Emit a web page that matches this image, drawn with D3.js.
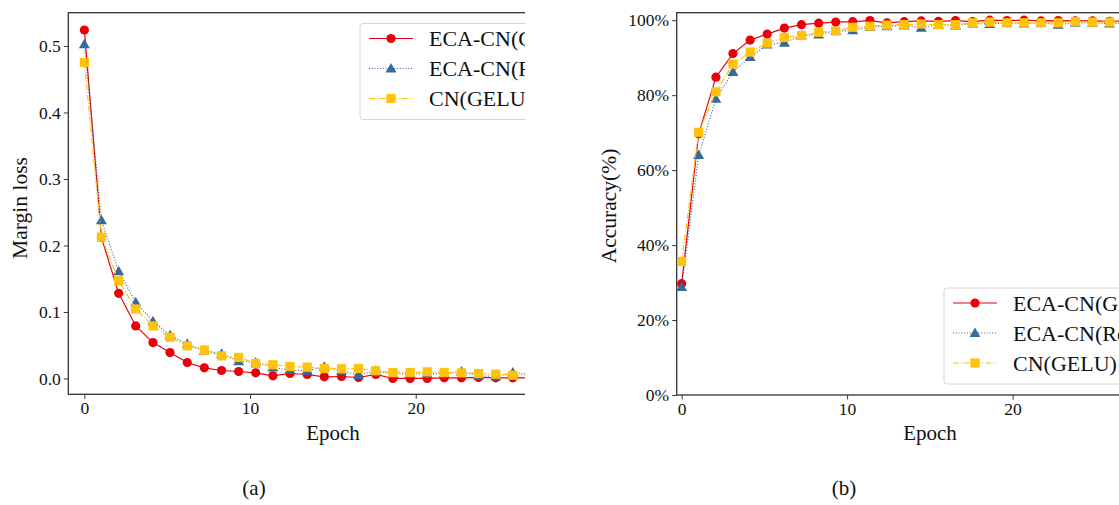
<!DOCTYPE html>
<head>
  <meta charset="utf-8">
  <script src="https://d3js.org/d3.v7.min.js"></script>
  <style>
body { margin:0; background:#fff; }
text { font-family: "Liberation Serif", "Times New Roman", serif; fill:#111; }
.tick text { font-size:17.5px; }
.tick line { stroke:#333; stroke-width:1; }
  </style>
</head>

<body>
  <script>
// epoch positions of the markers
const epochs = [0, 1.03, 2.07, 3.10, 4.14, 5.17, 6.21, 7.24, 8.28, 9.31, 10.34, 11.38, 12.41,
  13.45, 14.48, 15.52, 16.55, 17.59, 18.62, 19.66, 20.69, 21.72, 22.76, 23.79, 24.83, 25.86, 26.90]

const seriesNames = ['ECA-CN(GELU)', 'ECA-CN(ReLU)', 'CN(GELU)']

// (a) margin loss
const lossEcaGelu = [0.524, 0.212, 0.128, 0.079, 0.054, 0.039, 0.024, 0.016, 0.012, 0.0105, 0.0085, 0.004, 0.0075,
  0.006, 0.0025, 0.003, 0.0015, 0.006, 0, 0, 0, 0.001, 0.001, 0.0015, 0.001, 0.001, 0.001]
const lossEcaRelu = [0.5025, 0.238, 0.161, 0.1146, 0.086, 0.065, 0.052, 0.042, 0.037, 0.026, 0.024, 0.0166, 0.0126,
  0.0116, 0.0176, 0.0116, 0.005, 0.0116, 0.0065, 0.0075, 0.0065, 0.0075, 0.0105, 0.004, 0.003, 0.009, 0.006]
const lossCnGelu = [0.475, 0.2126, 0.147, 0.1045, 0.079, 0.062, 0.049, 0.0427, 0.034, 0.0317, 0.0226, 0.0206, 0.018,
  0.017, 0.015, 0.0146, 0.015, 0.0116, 0.009, 0.009, 0.01, 0.009, 0.0085, 0.0075, 0.0065, 0.005, 0.005]

// (b) accuracy in %
const accEcaGelu = [29.7, 69.7, 84.8, 91.1, 94.7, 96.3, 97.9, 98.8, 99.2, 99.5, 99.6, 99.9, 99.3,
  99.6, 99.8, 99.7, 99.9, 99.6, 100, 99.9, 100, 99.8, 99.9, 99.8, 99.8, 99.7, 99.8]
const accEcaRelu = [28.8, 64.0, 79.0, 86.2, 90.2, 93.5, 94.0, 95.9, 96.2, 97.1, 97.3, 98.2, 98.4,
  98.6, 98.0, 98.8, 98.6, 99.1, 99.0, 99.3, 99.1, 99.3, 98.8, 99.3, 99.3, 99.1, 99.2]
const accCnGelu = [35.6, 70.1, 80.9, 88.3, 91.5, 93.9, 95.4, 95.9, 96.8, 97.1, 98.1, 98.4, 98.7,
  98.8, 99.0, 98.8, 98.8, 99.3, 99.5, 99.3, 99.3, 99.3, 99.3, 99.6, 99.5, 99.5, 99.5]

const lossTicks = [0, 0.1, 0.2, 0.3, 0.4, 0.5]
const accTicks = [0, 20, 40, 60, 80, 100]
const epochTicks = [0, 10, 20, 30]

const styles = [
  { color: '#e8000b', dash: null, marker: 'circle' },
  { color: '#356a9d', dash: '1,1.8', marker: 'triangle' },
  { color: '#ffc20e', dash: '6,1.8,1.2,1.8', marker: 'square' }
]

const svg = d3.select('body').append('svg')
  .attr('width', 1119).attr('height', 505)

const drawMarker = (sel, kind, color) => {
  if (kind === 'circle') {
    sel.append('circle').attr('r', 4.6).attr('fill', color)
  } else if (kind === 'triangle') {
    sel.append('path').attr('d', d3.symbol(d3.symbolTriangle, 52)()).attr('fill', color)
      .attr('transform', 'translate(0,0.8)')
  } else {
    sel.append('rect').attr('x', -4.6).attr('y', -4.6).attr('width', 9.2).attr('height', 9.2).attr('fill', color)
  }
}

function panel(cfg) {
  const g = svg.append('g')
  if (cfg.clip) {
    svg.append('clipPath').attr('id', cfg.id)
      .append('rect').attr('x', 0).attr('y', 0).attr('width', cfg.clip).attr('height', 505)
    g.attr('clip-path', `url(#${cfg.id})`)
  }
  const x = d3.scaleLinear().domain(cfg.xDomain).range([cfg.left, cfg.right])
  const y = d3.scaleLinear().domain(cfg.yDomain).range([cfg.bottom, cfg.top])

  // spines
  g.append('rect').attr('x', cfg.left).attr('y', cfg.top)
    .attr('width', cfg.right - cfg.left).attr('height', cfg.bottom - cfg.top)
    .attr('fill', 'none').attr('stroke', '#333').attr('stroke-width', 1.3)

  g.append('g').attr('transform', `translate(0,${cfg.bottom})`)
    .call(d3.axisBottom(x).tickValues(epochTicks).tickSize(4.5).tickPadding(3).tickFormat(d3.format('d')))
  g.append('g').attr('transform', `translate(${cfg.left},0)`)
    .call(d3.axisLeft(y).tickValues(cfg.yTicks).tickSize(4.5).tickPadding(3).tickFormat(cfg.yFormat))
  g.selectAll('.domain').remove()

  g.append('text').attr('x', cfg.xLabelX).attr('y', 440).attr('text-anchor', 'middle')
    .attr('font-size', 21).text('Epoch')
  g.append('text').attr('transform', `translate(${cfg.yLabelX},${cfg.yLabelY}) rotate(-90)`)
    .attr('text-anchor', 'middle').attr('font-size', 21.5).text(cfg.yLabel)

  cfg.series.forEach((vals, i) => {
    const st = styles[i]
    const pts = epochs.map((e, k) => [e, vals[k]])
    g.append('path').datum(pts)
      .attr('fill', 'none').attr('stroke', st.color).attr('stroke-width', 1.2)
      .attr('stroke-dasharray', st.dash)
      .attr('d', d3.line().x(d => x(d[0])).y(d => y(d[1])))
    g.append('g').selectAll('g').data(pts).join('g')
      .attr('transform', d => `translate(${x(d[0])},${y(d[1])})`)
      .each(function () { drawMarker(d3.select(this), st.marker, st.color) })
  })

  // legend
  const lg = g.append('g').attr('transform', `translate(${cfg.legend[0]},${cfg.legend[1]})`)
  lg.append('rect').attr('width', 230).attr('height', 96).attr('rx', 3)
    .attr('fill', '#fff').attr('fill-opacity', 0.85).attr('stroke', '#d6d6d6')
  seriesNames.forEach((name, i) => {
    const st = styles[i]
    const row = lg.append('g').attr('transform', `translate(0,${15 + i * 30})`)
    row.append('line').attr('x1', 9).attr('x2', 53)
      .attr('stroke', st.color).attr('stroke-width', 1.2).attr('stroke-dasharray', st.dash)
    drawMarker(row.append('g').attr('transform', 'translate(31,0)'), st.marker, st.color)
    row.append('text').attr('x', 69).attr('y', 7.5).attr('font-size', 22).text(name)
  })
}

panel({
  id: 'clipA', clip: 525,
  left: 68.3, right: 598, top: 12.7, bottom: 394.3,
  xDomain: [-0.97, 31.0], yDomain: [-0.0238, 0.550],
  yTicks: lossTicks, yFormat: d3.format('.1f'),
  series: [lossEcaGelu, lossEcaRelu, lossCnGelu],
  xLabelX: 333, yLabelX: 27, yLabelY: 208, yLabel: 'Margin loss',
  legend: [360, 23.5]
})

panel({
  id: 'clipB', clip: null,
  left: 676.7, right: 1183, top: 12.7, bottom: 395,
  xDomain: [-0.3, 30.3], yDomain: [0, 102],
  yTicks: accTicks, yFormat: d => d + '%',
  series: [accEcaGelu, accEcaRelu, accCnGelu],
  xLabelX: 930, yLabelX: 616, yLabelY: 206, yLabel: 'Accuracy(%)',
  legend: [944, 288]
})

svg.append('text').attr('x', 254).attr('y', 495).attr('text-anchor', 'middle')
  .attr('font-size', 21).text('(a)')
svg.append('text').attr('x', 844).attr('y', 495).attr('text-anchor', 'middle')
  .attr('font-size', 21).text('(b)')
  </script>
</body>
